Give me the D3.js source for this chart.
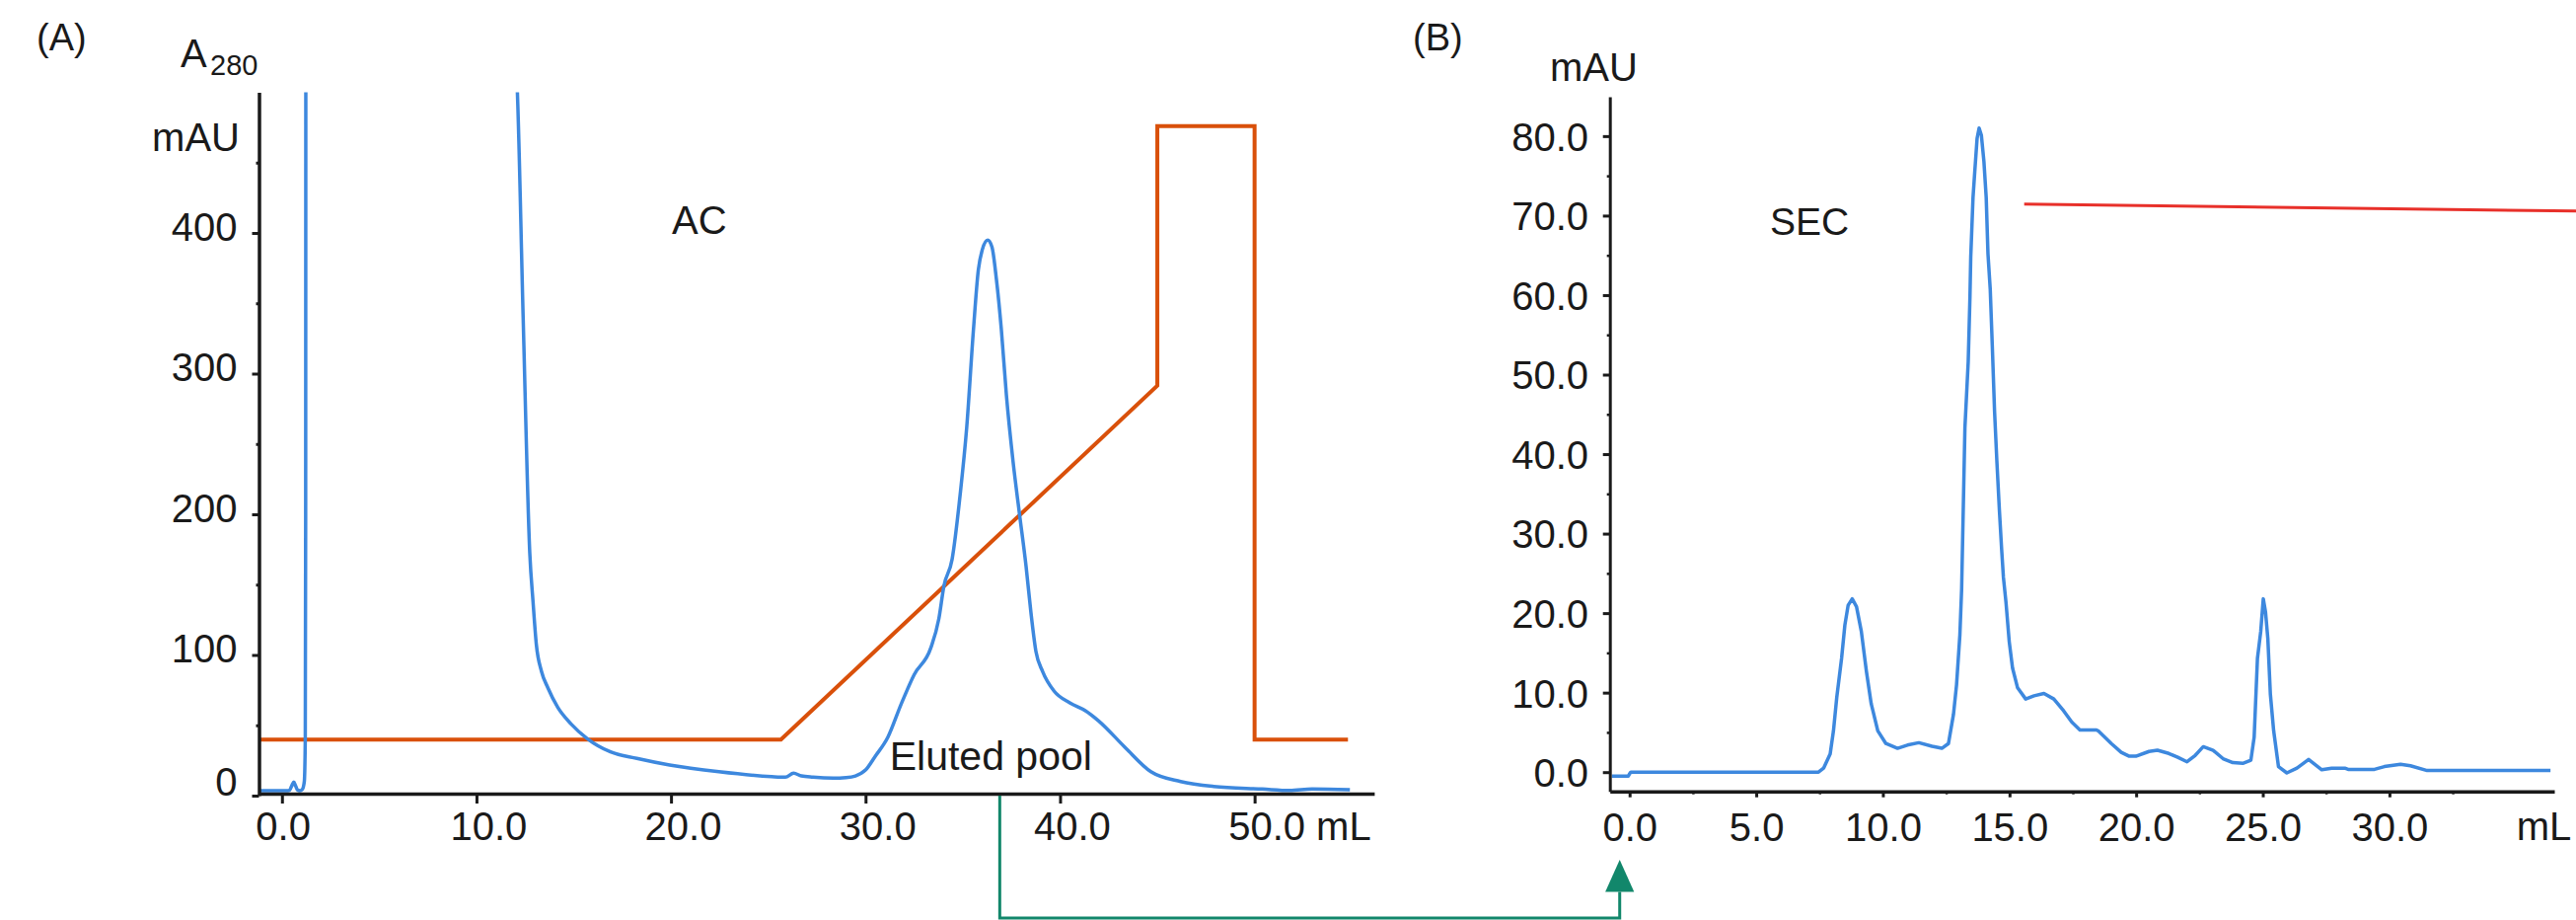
<!DOCTYPE html>
<html><head><meta charset="utf-8">
<script src="https://cdn.jsdelivr.net/npm/d3@7"></script>
<style>
html,body{margin:0;padding:0;background:#fff;}
svg{display:block;}
text{font-family:"Liberation Sans",Arial,Helvetica,sans-serif;fill:#1a1a1a;}
</style></head><body>
<svg id="chart" width="2611" height="932"></svg>
<script>
// ---------------- DATA ----------------
// Panel A: affinity chromatography (AC), A280 in mAU vs volume (mL)
const acVolume = [-1.18,0.3,0.4,0.52,0.61,0.7,0.8,0.92,1.05,1.15,1.2,1.22,1.23,
  12.0,12.09,12.4,12.74,12.91,13.08,13.34,13.67,14.18,14.86,15.7,16.89,18.24,19.93,22.46,25.17,25.88,26.3,26.7,27.3,28.34,29.0,29.48,30.0,30.48,31.15,31.83,32.5,33.35,33.77,34.03,34.45,34.87,35.2,35.55,35.8,36.0,36.28,36.5,36.73,36.98,37.24,37.58,37.91,38.25,38.5,38.76,39.1,39.69,40.5,41.3,41.97,43.32,44.67,46.2,47.9,50.4,51.8,52.96,54.9];
const acA280 = [3.5,3.5,4,7.5,9.6,7,4,3.5,4.5,10,40,200,530,
  530,505,340,172.6,137.5,107.2,88.4,76.7,62.7,51,40.5,31.1,26.5,21.8,17,13.5,13.1,15.9,14,13.1,12.4,12.8,14,18.2,27.6,41.6,65,86,104.8,125.8,149,168,214.7,261.5,331.7,373.8,388,394.9,390,366.8,331.7,285,238,200.7,163.3,130.5,102.5,88.4,74.4,66,60.4,53.3,34.6,17,10,6.5,4.7,3.7,4.7,4.2];
// gradient trace (drawn on the same vertical scale)
const acGradVolume = [-1.18,25.65,45.0,45.0,50.0,50.0,54.8];
const acGradient = [39.8,39.8,291.4,476,476,39.8,39.8];
const acYTicks = [0,100,200,300,400];
const acYTickLabels = ["0","100","200","300","400"];
const acYMinor = [50,150,250,350,450];
const acXTicks = [0,10,20,30,40,50];
const acXTickLabels = ["0.0","10.0","20.0","30.0","40.0","50.0 mL"];
const poolVolume = 36.9;      // eluted pool position on AC run (mL)

// Panel B: size exclusion chromatography (SEC)
const secVolume = [-0.7,-0.05,0.0,0.05,7.46,7.66,7.92,8.05,8.18,8.37,8.5,8.63,8.79,8.96,9.15,9.35,9.54,9.8,10.12,10.58,10.97,11.42,11.94,12.33,12.59,12.79,12.91,13.04,13.11,13.24,13.37,13.44,13.47,13.56,13.63,13.72,13.8,13.89,13.99,14.08,14.15,14.24,14.32,14.41,14.5,14.6,14.69,14.76,14.86,14.99,15.12,15.32,15.64,15.97,16.36,16.75,17.14,17.46,17.78,18.43,18.5,18.89,19.02,19.41,19.73,19.99,20.51,20.84,21.29,21.62,22.01,22.33,22.65,23.04,23.43,23.82,24.21,24.53,24.66,24.79,24.92,25.02,25.11,25.2,25.3,25.43,25.62,25.95,26.35,26.81,27.33,27.72,28.24,28.37,29.41,29.8,30.44,30.83,31.49,36.36];
const secA280 = [-0.5,-0.5,-0.2,0,0,0.5,2.3,5.2,9.4,14.3,18.5,21,21.8,20.8,17.7,12.7,8.6,5.2,3.6,3.0,3.4,3.7,3.25,3.0,3.6,7.3,11,17.2,23,43.3,51.6,59.9,64.8,72.3,75.6,79.7,81,80.1,76.8,72.3,65.2,60.7,53.7,45.4,39.2,33,28,24.5,21.4,16.4,13.1,10.6,9.2,9.6,9.9,9.2,7.7,6.3,5.3,5.3,5.2,4.0,3.6,2.5,2.0,2.0,2.6,2.75,2.35,1.9,1.3,2.1,3.2,2.75,1.7,1.2,1.1,1.5,4.4,14.3,17.7,21.8,20.1,16.8,9.8,5.2,0.7,-0.1,0.5,1.6,0.3,0.5,0.5,0.35,0.35,0.7,1.0,0.8,0.2,0.2];
const secCondVolume = [15.58,52.95];
const secCond = [71.46,69.93];
const secYTicks = [0,10,20,30,40,50,60,70,80];
const secYTickLabels = ["0.0","10.0","20.0","30.0","40.0","50.0","60.0","70.0","80.0"];
const secYMinor = [5,15,25,35,45,55,65,75];
const secXTicks = [0,5,10,15,20,25,30];
const secXTickLabels = ["0.0","5.0","10.0","15.0","20.0","25.0","30.0"];
const secXMinor = [2.5,7.5,12.5,17.5,22.5,27.5,32.5];
const injectVolume = -0.39;   // sample applied to SEC

// ---------------- DRAW ----------------
const svg = d3.select("#chart");
const INK = "#1a1a1a", BLUE = "#3d88de", ORANGE = "#d9500a", RED = "#e8302a", GREEN = "#12876b";
const FS = 40;

function styleAxis(g, w){
  g.select(".domain").attr("stroke", INK).attr("stroke-width", w);
  g.selectAll(".tick line").attr("stroke", INK).attr("stroke-width", 3);
  g.selectAll(".tick text").attr("fill", INK).style("font-size", FS+"px")
    .style("font-family", '"Liberation Sans",Arial,Helvetica,sans-serif');
}

// ---- Panel A ----
const xA = d3.scaleLinear().domain([-1.18, 56.15]).range([262.5, 1392.9]);
const yA = d3.scaleLinear().domain([0, 500]).range([806, 93.5]);

svg.append("defs").append("clipPath").attr("id","clipA")
  .append("rect").attr("x", xA.range()[0]).attr("y", yA.range()[1])
  .attr("width", xA.range()[1]-xA.range()[0]).attr("height", yA.range()[0]-yA.range()[1]+10);

const gA = svg.append("g");
// gradient (orange)
gA.append("path")
  .datum(d3.zip(acGradVolume, acGradient))
  .attr("fill","none").attr("stroke",ORANGE).attr("stroke-width",4)
  .attr("stroke-linejoin","miter")
  .attr("d", d3.line().x(d=>xA(d[0])).y(d=>yA(d[1])));
// A280 (blue)
gA.append("path")
  .datum(d3.zip(acVolume, acA280))
  .attr("clip-path","url(#clipA)")
  .attr("fill","none").attr("stroke",BLUE).attr("stroke-width",3.5)
  .attr("d", d3.line().x(d=>xA(d[0])).y(d=>yA(d[1])).curve(d3.curveMonotoneX));

// axes A
const axA_y = gA.append("g").attr("transform",`translate(${xA.range()[0]},0)`)
  .call(d3.axisLeft(yA).tickValues(acYTicks).tickSize(7).tickPadding(15).tickSizeOuter(0)
    .tickFormat((d,i)=>acYTickLabels[i]));
styleAxis(axA_y, 3.5);
axA_y.selectAll(".tick text").attr("dy","0.18em").attr("y", d=> d===0 ? -8 : 0);
const axA_ym = gA.append("g").attr("transform",`translate(${xA.range()[0]},0)`)
  .call(d3.axisLeft(yA).tickValues(acYMinor).tickSize(3).tickSizeOuter(0).tickFormat(""));
axA_ym.select(".domain").remove();
axA_ym.selectAll(".tick line").attr("stroke",INK).attr("stroke-width",3);

const axA_x = gA.append("g").attr("transform","translate(0,804)")
  .call(d3.axisBottom(xA).tickValues(acXTicks).tickSize(10).tickPadding(9).tickSizeOuter(0)
    .tickFormat((d,i)=>acXTickLabels[i]));
styleAxis(axA_x, 3.5);
axA_x.selectAll(".tick text").attr("text-anchor","start").attr("x",-27);

// labels A
svg.append("text").attr("x",37).attr("y",51).style("font-size","38px").text("(A)");
svg.append("text").attr("x",183).attr("y",68).style("font-size",FS+"px").text("A");
svg.append("text").attr("x",213).attr("y",76).style("font-size","29px").text("280");
svg.append("text").attr("x",243).attr("y",153).attr("text-anchor","end").style("font-size",FS+"px").text("mAU");
svg.append("text").attr("x",681).attr("y",236.6).style("font-size",FS+"px").text("AC");
svg.append("text").attr("x",901.7).attr("y",780).style("font-size","41px").text("Eluted pool");

// ---- Panel B ----
const xB = d3.scaleLinear().domain([-0.78, 36.51]).range([1631.7, 2589]);
const yB = d3.scaleLinear().domain([-2.42, 84.95]).range([801.7, 98]);
const gB = svg.append("g");

gB.append("path")
  .datum(d3.zip(secVolume, secA280))
  .attr("fill","none").attr("stroke",BLUE).attr("stroke-width",3.5)
  .attr("stroke-linejoin","round")
  .attr("d", d3.line().x(d=>xB(d[0])).y(d=>yB(d[1])));
gB.append("path")
  .datum(d3.zip(secCondVolume, secCond))
  .attr("fill","none").attr("stroke",RED).attr("stroke-width",3)
  .attr("d", d3.line().x(d=>xB(d[0])).y(d=>yB(d[1])));

const axB_y = gB.append("g").attr("transform",`translate(${xB.range()[0]},0)`)
  .call(d3.axisLeft(yB).tickValues(secYTicks).tickSize(7).tickPadding(14.7).tickSizeOuter(0)
    .tickFormat((d,i)=>secYTickLabels[i]));
styleAxis(axB_y, 3);
axB_y.selectAll(".tick text").attr("dy","0.36em");
const axB_ym = gB.append("g").attr("transform",`translate(${xB.range()[0]},0)`)
  .call(d3.axisLeft(yB).tickValues(secYMinor).tickSize(3).tickSizeOuter(0).tickFormat(""));
axB_ym.select(".domain").remove();
axB_ym.selectAll(".tick line").attr("stroke",INK).attr("stroke-width",2.5);

const axB_x = gB.append("g").attr("transform",`translate(0,${yB.range()[0]})`)
  .call(d3.axisBottom(xB).tickValues(secXTicks).tickSize(6).tickPadding(15.7).tickSizeOuter(0)
    .tickFormat((d,i)=>secXTickLabels[i]));
styleAxis(axB_x, 3.5);
const axB_xm = gB.append("g").attr("transform",`translate(0,${yB.range()[0]})`)
  .call(d3.axisBottom(xB).tickValues(secXMinor).tickSize(3).tickSizeOuter(0).tickFormat(""));
axB_xm.select(".domain").remove();
axB_xm.selectAll(".tick line").attr("stroke",INK).attr("stroke-width",2.5);

svg.append("text").attr("x",1432).attr("y",51).style("font-size","38px").text("(B)");
svg.append("text").attr("x",1571).attr("y",82).style("font-size",FS+"px").text("mAU");
svg.append("text").attr("x",1794).attr("y",238).style("font-size","39px").text("SEC");
svg.append("text").attr("x",2550.7).attr("y",851).style("font-size",FS+"px").text("mL");

// ---- connector: eluted pool -> SEC injection ----
const px = xA(poolVolume), ax = xB(injectVolume);
const lineY = 930, tipY = 871, baseY = 903.6, hw = 14.6;
svg.append("path")
  .attr("d", `M${px},806V${lineY}H${ax}V${baseY}`)
  .attr("fill","none").attr("stroke",GREEN).attr("stroke-width",3);
svg.append("path")
  .attr("d", `M${ax},${tipY}L${ax-hw},${baseY}L${ax+hw},${baseY}Z`)
  .attr("fill",GREEN);
</script>
</body></html>
